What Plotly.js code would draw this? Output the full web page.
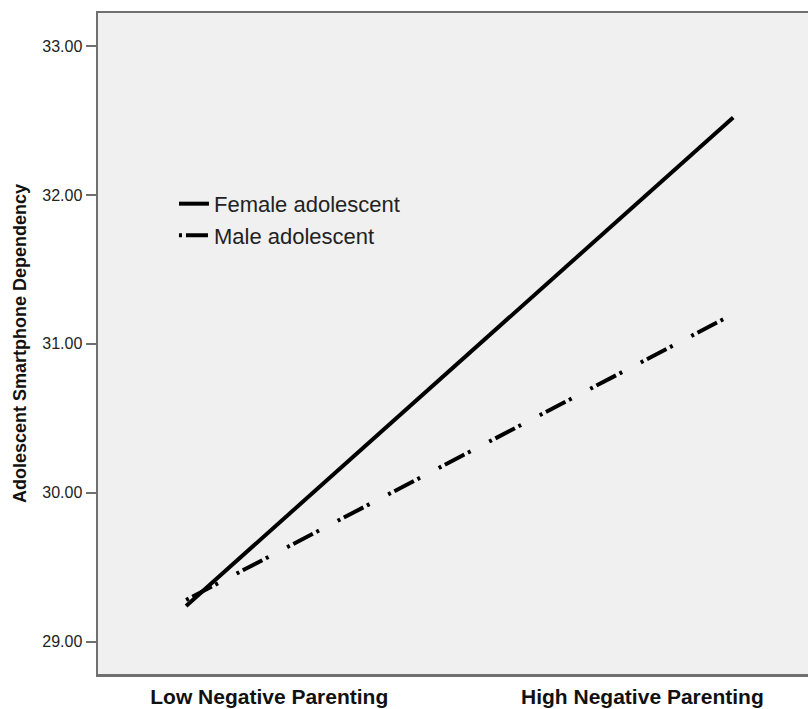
<!DOCTYPE html>
<html>
<head>
<meta charset="utf-8">
<script src="https://cdn.plot.ly/plotly-3.0.1.min.js"></script>
<style>
html,body{margin:0;padding:0;overflow:hidden;background:#fff;}
#chart{width:812px;height:709px;}
</style>
</head>
<body>
<div id="chart"></div>
<script>
// Data
const categories = ["Low Negative Parenting", "High Negative Parenting"];
const seriesNames = ["Female adolescent", "Male adolescent"];
const femaleValues = [29.24, 32.52];
const maleValues = [29.28, 31.20];
const yTickValues = [29, 30, 31, 32, 33];

// point positions (0 = low, 1 = high) and where SPSS put the category labels
const xPoints = [0, 1];
const xLabelPos = [0.152, 0.834];

const axisColor = "#707070";

const traces = [
  {
    x: xPoints, y: femaleValues, name: seriesNames[0], type: "scatter", mode: "lines",
    line: {color: "#000", width: 4}, legendgroup: "f", showlegend: true
  },
  {
    x: xPoints, y: maleValues, name: seriesNames[1], type: "scatter", mode: "lines",
    line: {color: "#000", width: 4, dash: "3px,4px,22px,4px,3px,21px"}, legendgroup: "m", showlegend: true
  }
];

const layout = {
  width: 812, height: 709,
  margin: {l: 98, r: 0, t: 13, b: 35, pad: 0},
  paper_bgcolor: "#ffffff",
  plot_bgcolor: "#f0f0f0",
  font: {family: "Liberation Sans, Arial, sans-serif", color: "#222"},
  showlegend: true,
  legend: {
    x: 0.1064, y: 0.743, xanchor: "left", yanchor: "top",
    bgcolor: "rgba(0,0,0,0)", borderwidth: 0,
    font: {family: "Liberation Sans, Arial, sans-serif", size: 22, color: "#222"},
    tracegroupgap: 5, traceorder: "normal"
  },
  xaxis: {
    range: [-0.161, 1.144],
    tickmode: "array", tickvals: xLabelPos, ticktext: categories,
    ticks: "", showgrid: false, zeroline: false,
    showline: true, linecolor: axisColor, linewidth: 2.5, mirror: true,
    tickfont: {family: "Liberation Sans, Arial, sans-serif", size: 21, color: "#111", weight: "bold"},
    ticklabelstandoff: 2
  },
  yaxis: {
    range: [28.783, 33.222],
    tickmode: "array", tickvals: yTickValues,
    tickformat: ".2f",
    ticks: "outside", ticklen: 10, tickwidth: 2, tickcolor: axisColor,
    showgrid: false, zeroline: false,
    showline: true, linecolor: axisColor, linewidth: 2.5,
    tickfont: {family: "Liberation Sans, Arial, sans-serif", size: 16, color: "#222"},
    title: {
      text: "Adolescent Smartphone Dependency",
      font: {family: "Liberation Sans, Arial, sans-serif", size: 18, color: "#111", weight: "bold"},
      standoff: 11
    }
  }
};

Plotly.newPlot("chart", traces, layout, {displayModeBar: false, staticPlot: true});
</script>
</body>
</html>
